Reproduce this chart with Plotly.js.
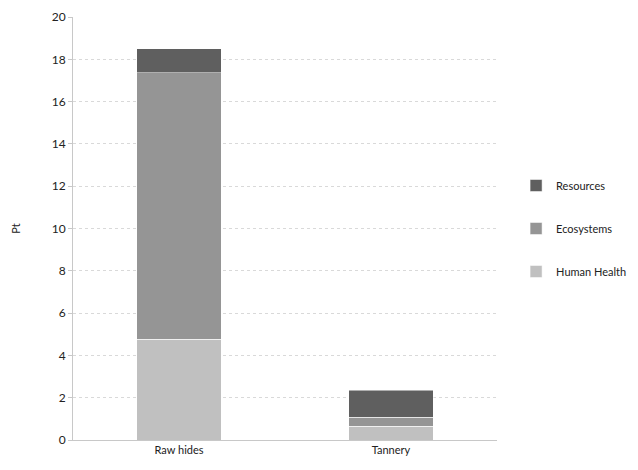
<!DOCTYPE html>
<html><head><meta charset="utf-8">
<script src="https://cdn.plot.ly/plotly-3.0.1.min.js"></script>
<style>html,body{margin:0;padding:0;background:#fff}</style>
</head><body>
<div id="chart" style="width:638px;height:470px"></div>
<script>
const categories = ["Raw hides", "Tannery"];
const humanHealth = [4.76, 0.66];
const ecosystems = [12.6, 0.41];
const resources = [1.14, 1.29];
const yTicks = [0, 2, 4, 6, 8, 10, 12, 14, 16, 18, 20];

const font = {family: "Lato, 'Open Sans', sans-serif", size: 11, color: "#222"};
const mk = (name, y, color, rank) => ({
  type: "bar", name: name, x: categories, y: y, width: 0.4, legendgroup: name,
  legendrank: rank,
  marker: {color: color, line: {color: "#ffffff", width: 0.5}}
});
const data = [
  mk("Human Health", humanHealth, "#c0c0c0", 3),
  mk("Ecosystems", ecosystems, "#959595", 2),
  mk("Resources", resources, "#5f5f5f", 1)
];
const layout = {
  width: 638, height: 470,
  barmode: "stack",
  paper_bgcolor: "#fff", plot_bgcolor: "#fff",
  margin: {l: 73, r: 141, t: 17, b: 30, autoexpand: false},
  font: font,
  showlegend: true,
  legend: {x: 1.045, y: 0.5, yanchor: "middle", xanchor: "left", traceorder: "grouped",
           font: {family: font.family, size: 11, color: "#222"}, tracegroupgap: 24,
           itemwidth: 30},
  xaxis: {type: "category", showgrid: false, showline: true, linecolor: "#c8c8c8",
          ticks: "", tickfont: {size: 11, color: "#222"}},
  yaxis: {range: [0, 20], tickvals: yTicks, showgrid: true, gridcolor: "#d9d9d9",
          griddash: "dot", showline: true, linecolor: "#c8c8c8", zeroline: false,
          ticks: "outside", ticklen: 4, tickcolor: "#c8c8c8",
          tickfont: {size: 12, color: "#222"},
          title: {text: "Pt", font: {size: 11, color: "#222"}, standoff: 28}}
};
Plotly.newPlot("chart", data, layout, {displayModeBar: false});
</script>
</body></html>
